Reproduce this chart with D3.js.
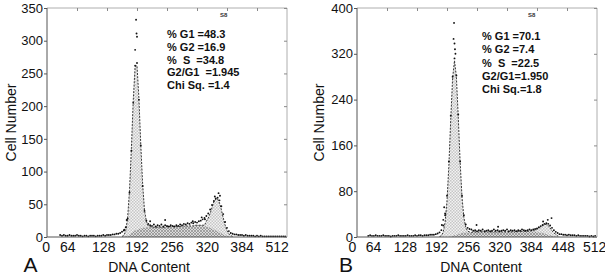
<!DOCTYPE html>
<html>
<head>
<meta charset="utf-8">
<script src="https://cdn.jsdelivr.net/npm/d3@7/dist/d3.min.js"></script>
<style>
  body { margin: 0; background: #fff; }
  svg { font-family: "Liberation Sans", Arial, Helvetica, sans-serif; }
</style>
</head>
<body>
<svg id="fig" width="605" height="279"></svg>
<script>
// channel step shared by every series below
const STEP = 4;

// ---------- panel A ----------
const countStartA = 28;
const countsA = [3,2,3,2,2,3,2,2,2,3,2,2,1,2,2,1,2,2,2,1,2,2,2,3,2,
  3,3,3,4,4,5,5,6,8,10,15,
  28,68,132,205,262,266,210,140,78,40,25,
  20,18,17,19,16,18,17,19,16,18,17,16,18,17,16,18,17,19,18,20,19,21,20,22,21,23,22,24,25,27,29,
  32,36,42,49,55,59,60,56,47,35,23,14,9,6,5,
  4,4,3,3,3,2,3,2,2,2,2,1,2,1,2,1,1,1,1,1,1,1,1,1,1,1,1,1];
const strayA = [[188,286],[190,332],[191,311],[192,306],[170,26],[165,11],[220,24],
  [252,26],[311,24],[330,30],[337,27],[366,67],[369,63],[358,62]];
const g1StartA = 160;
const g1A = [1,2,9,27,67,129,201,251,251,201,129,67,27,9,2,1];
const sStartA = 160;
const sA = [0,0,1,2,4,6,8,10,11,12, 13,14,14,15,15,15,15,15,15,15, 15,15,15,15,16,16,16,16,16,16,
  16,16,17,17,17,17,17,17,17,18, 18,18,18,18,17,16,15,14,13,12, 10,9,7,6,4,3,2,1,0];
const g2StartA = 336;
const g2A = [1,8,14,22,32,42,48,49,45,36,25,15,8,4,2,1];
const statsA = ["% G1 =48.3", "% G2 =16.9", "%  S  =34.8", "G2/G1  =1.945", "Chi Sq. =1.4"];
const yTicksA = [0,50,100,150,200,250,300,350];
const xTickAtA = [-3,43,120,191,266,341,415,490];
const xTickLabA = ["0","64","128","192","256","320","384","512"];

// ---------- panel B ----------
const countStartB = 24;
const countsB = [2,3,2,2,3,2,2,2,3,2, 2,2,1,2,2,2,3,2,2,2, 2,3,2,2,2,3,2,3,3,2, 3,3,3,4,4,
  4,5,6,8,12,20,38,72,132,212, 280,312,282,214,132,72,38,22,16,14,
  13,11,12,10,12,11,13,10,11,12, 10,11,13,11,12,10,11,12,11,13, 10,12,11,12,10,12,11,13,12,11, 12,13,12,13,14,
  15,17,19,21,23,24,23,20,16,12,9,7,5,
  5,4,4,3,4,3,3,3,2,3, 2,2,2,2,2,1,2,1,2];
const strayB = [[207,374],[206,346],[208,338],[209,328],[210,320],[181,21],[184,30],
  [188,41],[186,52],[255,21],[301,18],[397,27],[407,30],[415,33]];
const g1StartB = 176;
const g1B = [1,2,9,26,63,125,205,276,305,276,205,125,63,26,9,2,1];
const sStartB = 196;
const sB = [0,1,2,3,4,5,6,7,8,8, 8,8,8,9,9,9,9,9,9,9, 9,9,9,9,9,9,9,9,9,9,
  9,9,9,9,9,9,10,10,10,10, 10,10,10,10,10,10,9,9,8,8, 7,6,5,4,3,2,1,1,0];
const g2StartB = 372;
const g2B = [1,2,3,5,7,10,13,16,17,16,13,9,6,4,2,1];
const statsB = ["% G1 =70.1", "% G2 =7.4", "%  S  =22.5", "G2/G1=1.950", "Chi Sq.=1.8"];
const yTicksB = [0,80,160,240,320,400];
const xTickAtB = [-11,34,102,169,237,304,371,439,506];
const xTickLabB = ["0","64","128","192","256","320","384","448","512"];

const frameTicks = [64,128,192,256,320,384,448];

const svg = d3.select("#fig");
const defs = svg.append("defs");

const gPat = defs.append("pattern").attr("id", "gPat")
  .attr("width", 3).attr("height", 3).attr("patternUnits", "userSpaceOnUse");
gPat.append("rect").attr("width", 3).attr("height", 3).attr("fill", "#f3f3f3");
gPat.append("rect").attr("width", 1.5).attr("height", 1.5).attr("fill", "#c6c6c6");
gPat.append("rect").attr("x", 1.5).attr("y", 1.5).attr("width", 1.5).attr("height", 1.5).attr("fill", "#c6c6c6");

const sPat = defs.append("pattern").attr("id", "sPat")
  .attr("width", 3).attr("height", 3).attr("patternUnits", "userSpaceOnUse");
sPat.append("rect").attr("width", 3).attr("height", 3).attr("fill", "#dadada");
sPat.append("path").attr("d", "M0,0L3,3M3,0L0,3").attr("stroke", "#7a7a7a").attr("stroke-width", 0.6);

function compAt(start, vals, ch) {
  const i = (ch - start) / STEP;
  return (i >= 0 && i < vals.length) ? vals[i] : 0;
}

function drawPanel(p) {
  const x = d3.scaleLinear().domain([0, 512]).range([p.left, p.right]);
  const y = d3.scaleLinear().domain([0, p.yMax]).range([p.bottom, p.top]);
  const g = svg.append("g");

  // model components on a common channel grid
  const lo = Math.min(p.g1Start, p.sStart, p.g2Start);
  const hi = Math.max(p.g1Start + STEP * (p.g1.length - 1),
                      p.sStart + STEP * (p.s.length - 1),
                      p.g2Start + STEP * (p.g2.length - 1));
  const fit = d3.range(lo, hi + STEP, STEP).map(ch => {
    const s = compAt(p.sStart, p.s, ch);
    return { ch, s, total: s + compAt(p.g1Start, p.g1, ch) + compAt(p.g2Start, p.g2, ch) };
  });

  g.append("path").datum(fit)
    .attr("fill", "url(#gPat)")
    .attr("d", d3.area().x(d => x(d.ch)).y0(y(0)).y1(d => y(d.total)));
  g.append("path").datum(fit)
    .attr("fill", "url(#sPat)")
    .attr("d", d3.area().x(d => x(d.ch)).y0(y(0)).y1(d => y(d.s)));
  g.append("path").datum(fit)
    .attr("fill", "none").attr("stroke", "#222").attr("stroke-width", 0.9)
    .attr("stroke-dasharray", "2,1.3")
    .attr("d", d3.line().x(d => x(d.ch)).y(d => y(d.total)));

  // histogram dots
  const pts = p.counts.map((c, i) => [p.countStart + i * STEP, c]).concat(p.stray);
  g.selectAll("circle.dot").data(pts).enter().append("circle")
    .attr("class", "dot")
    .attr("cx", d => x(d[0])).attr("cy", d => y(d[1]))
    .attr("r", 0.95).attr("fill", "#111");

  // frame
  g.append("line").attr("x1", p.left).attr("x2", p.right).attr("y1", p.top).attr("y2", p.top)
    .attr("stroke", "#9a9a9a").attr("stroke-width", 0.8);
  g.append("line").attr("x1", p.right).attr("x2", p.right).attr("y1", p.top).attr("y2", p.bottom)
    .attr("stroke", "#9a9a9a").attr("stroke-width", 0.8);
  g.append("line").attr("x1", p.left).attr("x2", p.right).attr("y1", p.bottom).attr("y2", p.bottom)
    .attr("stroke", "#555").attr("stroke-width", 1);
  g.append("line").attr("x1", p.left).attr("x2", p.left).attr("y1", p.top).attr("y2", p.bottom)
    .attr("stroke", "#555").attr("stroke-width", 1);

  const top = g.append("g").attr("transform", `translate(0,${p.top})`)
    .call(d3.axisTop(x).tickValues(frameTicks).tickSize(-3).tickFormat(""));
  top.select(".domain").remove();
  top.selectAll("line").attr("stroke", "#8a8a8a");

  const rt = g.append("g").attr("transform", `translate(${p.right},0)`)
    .call(d3.axisRight(y).tickValues(p.yTicks).tickSize(-3).tickFormat(""));
  rt.select(".domain").remove();
  rt.selectAll("line").attr("stroke", "#8a8a8a");

  const ya = g.append("g").attr("transform", `translate(${p.left},0)`)
    .call(d3.axisLeft(y).tickValues(p.yTicks).tickSize(3).tickPadding(1));
  ya.select(".domain").remove();
  ya.selectAll("line").attr("stroke", "#555");
  ya.selectAll("text").attr("font-size", 13).attr("fill", "#111")
    .attr("font-family", "Liberation Sans, Arial, sans-serif");

  const xa = g.append("g").attr("transform", `translate(0,${p.bottom})`)
    .call(d3.axisBottom(x).tickValues(p.xTickAt).tickSize(0).tickPadding(5)
      .tickFormat((d, i) => p.xTickLab[i]));
  xa.select(".domain").remove();
  xa.selectAll("text").attr("font-size", 14).attr("fill", "#111")
    .attr("font-family", "Liberation Sans, Arial, sans-serif");

  // titles
  g.append("text").attr("x", p.xTitleX).attr("y", 272)
    .attr("text-anchor", "middle").attr("font-size", 14).attr("fill", "#111")
    .text("DNA Content");
  g.append("text")
    .attr("transform", `translate(${p.yTitleX},${(p.top + p.bottom) / 2}) rotate(-90)`)
    .attr("text-anchor", "middle").attr("font-size", 14).attr("fill", "#111")
    .text("Cell Number");
  g.append("text").attr("x", p.letterX).attr("y", 272)
    .attr("text-anchor", "middle").attr("font-size", 21).attr("fill", "#111")
    .text(p.letter);

  // stats box
  g.append("text").attr("x", p.sampleX).attr("y", 17)
    .attr("font-size", 6).attr("font-weight", "bold").attr("fill", "#333").text("S8");
  g.selectAll("text.stat").data(p.stats).enter().append("text")
    .attr("class", "stat")
    .attr("x", p.statX).attr("y", (d, i) => p.statY + i * p.statGap)
    .attr("font-size", 11).attr("font-weight", "bold").attr("fill", "#111")
    .style("white-space", "pre")
    .text(d => d);
}

drawPanel({
  left: 47, right: 287, top: 8, bottom: 237, yMax: 350,
  counts: countsA, countStart: countStartA, stray: strayA,
  g1: g1A, g1Start: g1StartA, s: sA, sStart: sStartA, g2: g2A, g2Start: g2StartA,
  yTicks: yTicksA, xTickAt: xTickAtA, xTickLab: xTickLabA,
  xTitleX: 149, yTitleX: 15.5, letter: "A", letterX: 30.5,
  stats: statsA, statX: 167, statY: 38, statGap: 12.8, sampleX: 220
});

drawPanel({
  left: 357, right: 597, top: 8, bottom: 237, yMax: 400,
  counts: countsB, countStart: countStartB, stray: strayB,
  g1: g1B, g1Start: g1StartB, s: sB, sStart: sStartB, g2: g2B, g2Start: g2StartB,
  yTicks: yTicksB, xTickAt: xTickAtB, xTickLab: xTickLabB,
  xTitleX: 481, yTitleX: 324, letter: "B", letterX: 346,
  stats: statsB, statX: 482, statY: 40, statGap: 13.3, sampleX: 528
});
</script>
</body>
</html>
